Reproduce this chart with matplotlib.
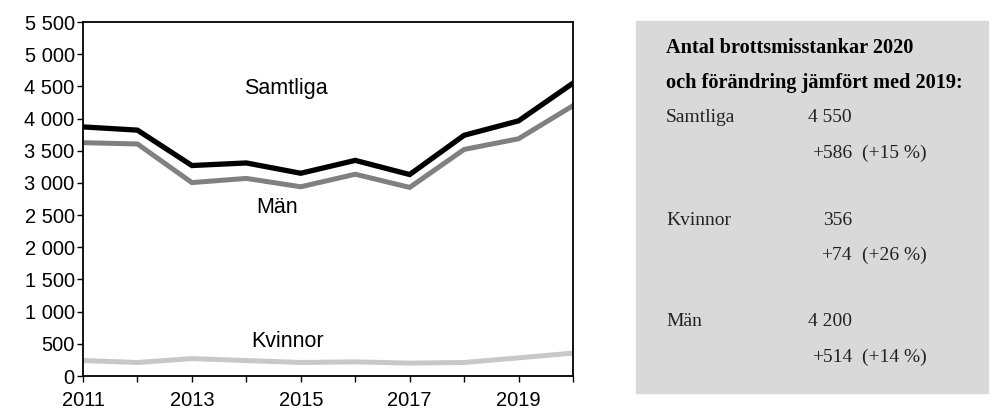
import matplotlib.pyplot as plt
from matplotlib.patches import Rectangle
from matplotlib.ticker import FuncFormatter

years = [2011, 2012, 2013, 2014, 2015, 2016, 2017, 2018, 2019, 2020]
samtliga = [3870, 3820, 3270, 3310, 3150, 3350, 3130, 3740, 3964, 4550]
man = [3625, 3605, 3005, 3070, 2940, 3135, 2930, 3520, 3686, 4200]
kvinnor = [240, 210, 270, 240, 210, 220, 200, 210, 282, 356]

box_title = ["Antal brottsmisstankar 2020", "och förändring jämfört med 2019:"]
box_labels = ["Samtliga", "Kvinnor", "Män"]
box_values = ["4 550", "356", "4 200"]
box_changes = ["+586", "+74", "+514"]
box_pct = ["(+15 %)", "(+26 %)", "(+14 %)"]

fig = plt.figure(figsize=(9.92, 4.09), dpi=100)
ax = fig.add_axes([83 / 992, 1 - 376 / 409, 490 / 992, 354 / 409])

# chart data
ax.plot(years, samtliga, c='black', lw=3.8, solid_joinstyle='miter')
ax.plot(years, man, c='#808080', lw=3.6, solid_joinstyle='miter')
ax.plot(years, kvinnor, c='#c8c8c8', lw=3.6, solid_joinstyle='miter')

sans = 'Liberation Sans'
ax.text(2014.72, 4470, "Samtliga", ha='center', va='center', fontsize=15.5, family=sans)
ax.text(2014.56, 2620, "Män", ha='center', va='center', fontsize=15.5, family=sans)
ax.text(2014.75, 530, "Kvinnor", ha='center', va='center', fontsize=15.5, family=sans)

# chart format
ax.set_xlim(2011, 2020)
ax.set_ylim(0, 5500)
ax.set_yticks(range(0, 5501, 500))
ax.yaxis.set_major_formatter(FuncFormatter(lambda v, p: f"{int(v):,}".replace(",", " ")))
ax.set_xticks(years)
ax.set_xticklabels([str(y) if y % 2 == 1 else "" for y in years])
ax.tick_params(axis='both', labelsize=14.5, direction='out', length=4, width=1, pad=2)
ax.tick_params(axis='x', pad=7)
for lab in ax.get_xticklabels() + ax.get_yticklabels():
    lab.set_family(sans)
for s in ax.spines.values():
    s.set_linewidth(1.3)

# info box
fig.patches.append(Rectangle((636 / 992, 1 - 393 / 409), 352 / 992, 372 / 409,
                             transform=fig.transFigure, color='#d9d9d9', zorder=0))

def fy(py):
    return 1 - py / 409

serif = 'Liberation Serif'
fs = 14
fig.text(666 / 992, fy(48), box_title[0], fontsize=14.6, weight='bold', family=serif, va='center')
fig.text(666 / 992, fy(83), box_title[1], fontsize=14.6, weight='bold', family=serif, va='center')
rows = [118, 220, 322]
for i, r in enumerate(rows):
    fig.text(666 / 992, fy(r), box_labels[i], fontsize=fs, family=serif, va='center', color='#222222')
    fig.text(852 / 992, fy(r), box_values[i], fontsize=fs, family=serif, va='center', ha='right', color='#222222')
    fig.text(852 / 992, fy(r + 35), box_changes[i], fontsize=fs, family=serif, va='center', ha='right', color='#222222')
    fig.text(862 / 992, fy(r + 35), box_pct[i], fontsize=fs, family=serif, va='center', color='#222222')

fig.savefig('out.png', dpi=100)
